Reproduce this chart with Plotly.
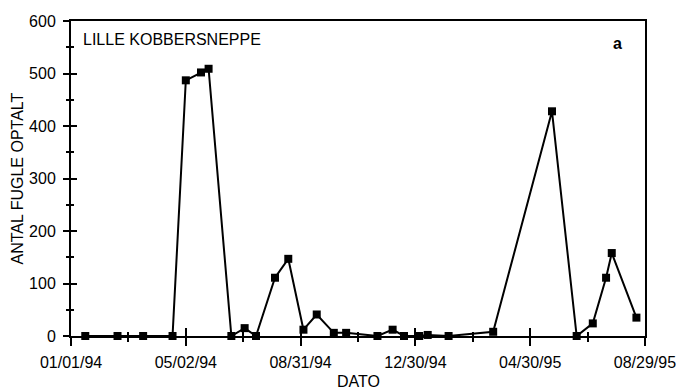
import pandas as pd
import plotly.graph_objects as go

# Survey dates and counts of birds
dates = [
    "1994-01-16", "1994-02-19", "1994-03-18", "1994-04-18", "1994-05-02",
    "1994-05-18", "1994-05-26", "1994-06-19", "1994-07-03", "1994-07-15",
    "1994-08-04", "1994-08-18", "1994-09-03", "1994-09-17", "1994-10-05",
    "1994-10-18", "1994-11-20", "1994-12-06", "1994-12-18", "1995-01-03",
    "1995-01-12", "1995-02-03", "1995-03-22", "1995-05-23", "1995-06-18",
    "1995-07-05", "1995-07-19", "1995-07-25", "1995-08-20",
]
counts = [
    0, 0, 0, 0, 487,
    502, 509, 0, 15, 0,
    111, 147, 12, 41, 6,
    6, 0, 12, 0, 0,
    2, 0, 8, 428, 0,
    24, 111, 158, 35,
]

# Axis ticks
x_tick_dates = ["1994-01-01", "1994-05-02", "1994-08-31", "1994-12-30", "1995-04-30", "1995-08-29"]
x_tick_labels = ["01/01/94", "05/02/94", "08/31/94", "12/30/94", "04/30/95", "08/29/95"]
y_tick_vals = [0, 100, 200, 300, 400, 500, 600]
y_minor_vals = [50, 150, 250, 350, 450, 550]

site_name = "LILLE KOBBERSNEPPE"
panel_letter = "a"
x_title = "DATO"
y_title = "ANTAL FUGLE OPTALT"

tick_ts = pd.to_datetime(x_tick_dates)
x_minor_vals = [(tick_ts[i] + (tick_ts[i + 1] - tick_ts[i]) / 2).strftime("%Y-%m-%d %H:%M")
                for i in range(len(tick_ts) - 1)]
# pad the ends by a fraction of a day so the end ticks stay inside the range
x_range = [(tick_ts[0] - pd.Timedelta(hours=1)).strftime("%Y-%m-%d %H:%M"),
           (tick_ts[-1] + pd.Timedelta(hours=1)).strftime("%Y-%m-%d %H:%M")]
y_range = [0, 600]

FONT = "Liberation Sans, Arial, Helvetica, sans-serif"

fig = go.Figure()
fig.add_trace(go.Scatter(
    x=dates, y=counts, mode="lines+markers",
    line=dict(color="black", width=2),
    marker=dict(symbol="square", size=8, color="black"),
    cliponaxis=False, showlegend=False,
))
# transparent copy on the overlay axes, which carry the inner half of the crossing ticks
fig.add_trace(go.Scatter(
    x=dates, y=counts, xaxis="x2", yaxis="y2", mode="markers",
    marker=dict(opacity=0), showlegend=False, hoverinfo="skip",
))

common_x = dict(type="date", range=x_range, tickmode="array", tickvals=x_tick_dates,
                showgrid=False, zeroline=False, tickcolor="black", tickwidth=1.5,
                automargin=False)
common_y = dict(range=y_range, tickmode="array", tickvals=y_tick_vals,
                showgrid=False, zeroline=False, tickcolor="black", tickwidth=1.5,
                automargin=False)

fig.update_layout(
    width=676, height=389,
    margin=dict(l=71, r=31, t=21, b=53),
    paper_bgcolor="white", plot_bgcolor="white",
    font=dict(family=FONT, size=16, color="black"),
    xaxis=dict(
        **common_x, ticktext=x_tick_labels, ticks="outside", ticklen=8,
        ticklabelstandoff=3, ticklabeloverflow="allow",
        showline=True, linecolor="black", linewidth=2, mirror=True,
        minor=dict(tickmode="array", tickvals=x_minor_vals, ticks="outside", ticklen=4,
                   tickcolor="black", tickwidth=1.5),
    ),
    yaxis=dict(
        **common_y, ticks="outside", ticklen=6, ticklabelstandoff=4,
        showline=True, linecolor="black", linewidth=2, mirror=True,
        minor=dict(tickmode="array", tickvals=y_minor_vals, ticks="outside", ticklen=3,
                   tickcolor="black", tickwidth=1.5),
    ),
    xaxis2=dict(
        **common_x, overlaying="x", anchor="y2", side="bottom", ticks="inside", ticklen=8,
        showticklabels=False, showline=False,
        minor=dict(tickmode="array", tickvals=x_minor_vals, ticks="inside", ticklen=4,
                   tickcolor="black", tickwidth=1.5),
    ),
    yaxis2=dict(
        **common_y, overlaying="y", anchor="x2", side="left", ticks="inside", ticklen=6,
        showticklabels=False, showline=False,
        minor=dict(tickmode="array", tickvals=y_minor_vals, ticks="inside", ticklen=3,
                   tickcolor="black", tickwidth=1.5),
    ),
    annotations=[
        dict(text=site_name, xref="paper", yref="paper", x=0.017, y=0.94,
             xanchor="left", yanchor="middle", showarrow=False, font=dict(size=16)),
        dict(text="<b>" + panel_letter + "</b>", xref="paper", yref="paper", x=0.952, y=0.93,
             xanchor="center", yanchor="middle", showarrow=False, font=dict(size=16)),
        # axis titles
        dict(text=x_title, xref="paper", yref="paper", x=0.5, y=-0.145,
             xanchor="center", yanchor="middle", showarrow=False, font=dict(size=16)),
        dict(text=y_title, xref="paper", yref="paper", x=-0.094, y=0.5, textangle=-90,
             xanchor="center", yanchor="middle", showarrow=False, font=dict(size=16)),
    ],
)

fig.write_html("out.html")
